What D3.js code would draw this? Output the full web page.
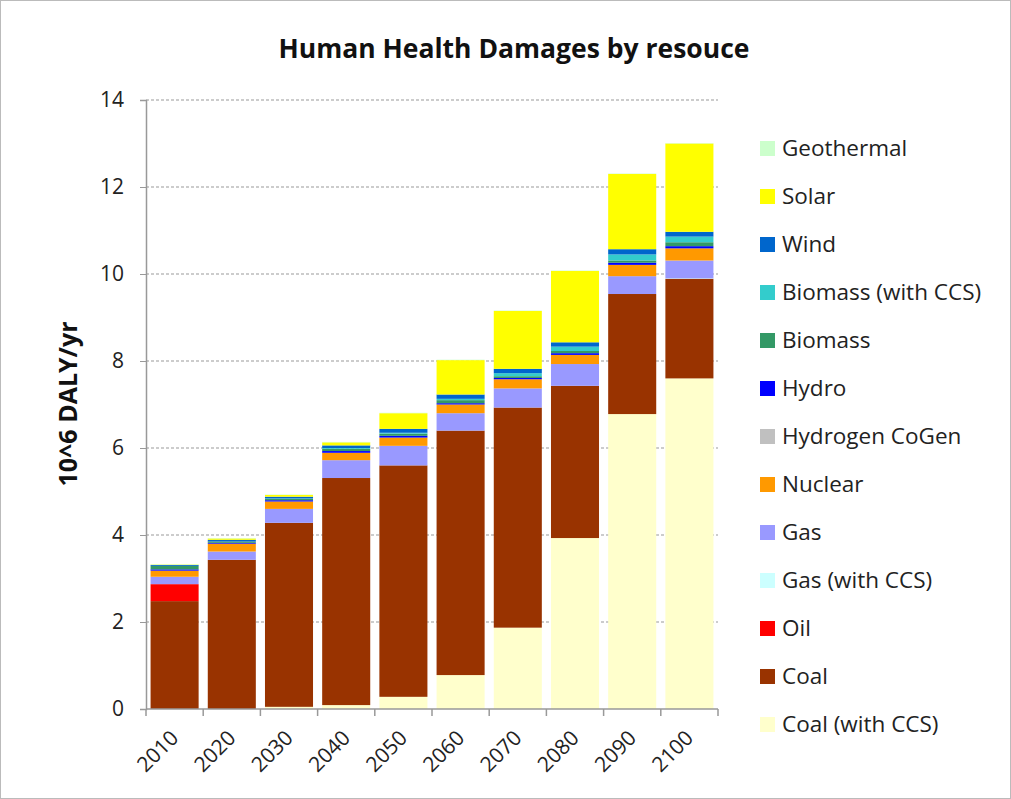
<!DOCTYPE html>
<html><head><meta charset="utf-8">
<script src="https://cdn.jsdelivr.net/npm/d3@7"></script>
<style>body{margin:0;background:#fff}svg{display:block}</style>
</head><body>
<svg id="c" width="1011" height="799"></svg>
<script>
const years = ["2010","2020","2030","2040","2050","2060","2070","2080","2090","2100"];
const seriesNames = ["Coal (with CCS)","Coal","Oil","Gas (with CCS)","Gas","Nuclear","Hydrogen CoGen","Hydro","Biomass","Biomass (with CCS)","Wind","Solar","Geothermal"];
const seriesColors = ["#ffffcc","#993300","#ff0000","#ccffff","#9999ff","#ff9900","#c0c0c0","#0000ff","#339966","#33cccc","#0066cc","#ffff00","#ccffcc"];
const coalCCS   = [0,    0,    0.05, 0.09, 0.28, 0.78, 1.87, 3.93, 6.78, 7.60];
const coal      = [2.48, 3.43, 4.23, 5.22, 5.32, 5.62, 5.06, 3.50, 2.76, 2.29];
const oil       = [0.39, 0,    0,    0,    0,    0,    0,    0,    0,    0];
const gasCCS    = [0,    0,    0,    0,    0,    0,    0,    0,    0,    0.01];
const gas       = [0.17, 0.19, 0.32, 0.41, 0.45, 0.40, 0.44, 0.50, 0.41, 0.41];
const nuclear   = [0.14, 0.18, 0.17, 0.17, 0.19, 0.20, 0.21, 0.21, 0.26, 0.28];
const hydrogen  = [0,    0,    0,    0,    0,    0,    0,    0,    0,    0];
const hydro     = [0.03, 0.02, 0.03, 0.04, 0.04, 0.03, 0.03, 0.04, 0.05, 0.05];
const biomass   = [0.08, 0.03, 0.03, 0.05, 0.05, 0.07, 0.04, 0.05, 0.05, 0.09];
const biomassCCS= [0,    0,    0.01, 0.02, 0.02, 0.03, 0.07, 0.10, 0.14, 0.13];
const wind      = [0.02, 0.04, 0.04, 0.06, 0.09, 0.10, 0.10, 0.10, 0.12, 0.11];
const solar     = [0.01, 0.03, 0.04, 0.07, 0.36, 0.79, 1.33, 1.64, 1.73, 2.03];
const geothermal= [0.01, 0.01, 0.01, 0.01, 0.01, 0.01, 0.01, 0.01, 0.01, 0.01];
const yTicks = [0,2,4,6,8,10,12,14];
const title = "Human Health Damages by resouce";
const yLabel = "10^6 DALY/yr";

const seriesValues = [coalCCS,coal,oil,gasCCS,gas,nuclear,hydrogen,hydro,biomass,biomassCCS,wind,solar,geothermal];
const table = years.map((y,i)=>{const o={year:y};seriesNames.forEach((s,k)=>o[s]=seriesValues[k][i]);return o;});

const svg = d3.select("#c");
const font = "'Open Sans', sans-serif";
svg.append("rect").attr("x",0.5).attr("y",0.5).attr("width",1010).attr("height",798).attr("fill","#fff").attr("stroke","#bbb");

const m = {l:146, r:718, t:100, b:709};
const x = d3.scaleBand().domain(years).range([m.l,m.r]).paddingInner(0.16).paddingOuter(0.08);
const y = d3.scaleLinear().domain([0,14]).range([m.b,m.t]);

// grid
svg.append("g").selectAll("line").data(yTicks.filter(t=>t>0)).join("line")
  .attr("x1",m.l).attr("x2",m.r).attr("y1",d=>y(d)).attr("y2",d=>y(d))
  .attr("stroke","#999").attr("stroke-dasharray","3,2").attr("stroke-width",1);

const stack = d3.stack().keys(seriesNames)(table);
svg.append("g").selectAll("g").data(stack).join("g")
  .attr("fill",(d,i)=>seriesColors[i])
  .selectAll("rect").data(d=>d).join("rect")
  .attr("x",d=>x(d.data.year)).attr("width",x.bandwidth())
  .attr("y",d=>y(d[1])).attr("height",d=>Math.max(0,y(d[0])-y(d[1])));

// y axis
const ya = svg.append("g").attr("transform",`translate(${m.l},0)`)
  .call(d3.axisLeft(y).tickValues(yTicks).tickSize(6).tickPadding(16));
ya.select(".domain").attr("stroke","#999").attr("stroke-width",1.5);
ya.selectAll(".tick line").attr("stroke","#999");
ya.selectAll("text").attr("font-family",font).attr("font-size",21).attr("fill","#222");

// x axis
const xa = svg.append("g").attr("transform",`translate(0,${m.b})`);
xa.append("line").attr("x1",m.l).attr("x2",m.r).attr("stroke","#999").attr("stroke-width",1.5);
const edges = years.map(yr=>x(yr)-x.step()*x.paddingInner()/2).concat([m.r]);
xa.selectAll("line.t").data(edges).join("line").attr("class","t")
  .attr("x1",d=>d).attr("x2",d=>d).attr("y1",0).attr("y2",7).attr("stroke","#999").attr("stroke-width",1.5);
xa.selectAll("text").data(years).join("text")
  .attr("transform",d=>`translate(${x(d)+x.bandwidth()/2},${25}) rotate(-45)`)
  .attr("text-anchor","end").attr("dy","0.35em")
  .attr("font-family",font).attr("font-size",21).attr("fill","#222").text(d=>d);

// title
svg.append("text").attr("x",514).attr("y",58).attr("text-anchor","middle")
  .attr("font-family",font).attr("font-weight","bold").attr("font-size",26.5).attr("fill","#111").text(title);
svg.append("text").attr("transform","translate(77,404) rotate(-90)").attr("text-anchor","middle")
  .attr("font-family",font).attr("font-weight","bold").attr("font-size",25).attr("fill","#111").text(yLabel);

// legend
const leg = svg.append("g");
const order = seriesNames.map((s,i)=>i).reverse();
order.forEach((k,j)=>{
  const yy = 148 + j*48;
  leg.append("rect").attr("x",760).attr("y",yy-7).attr("width",15).attr("height",15).attr("fill",seriesColors[k]);
  leg.append("text").attr("x",782).attr("y",yy).attr("dy","0.35em")
    .attr("font-family",font).attr("font-size",22.5).attr("fill","#222").text(seriesNames[k]);
});
</script>
</body></html>
